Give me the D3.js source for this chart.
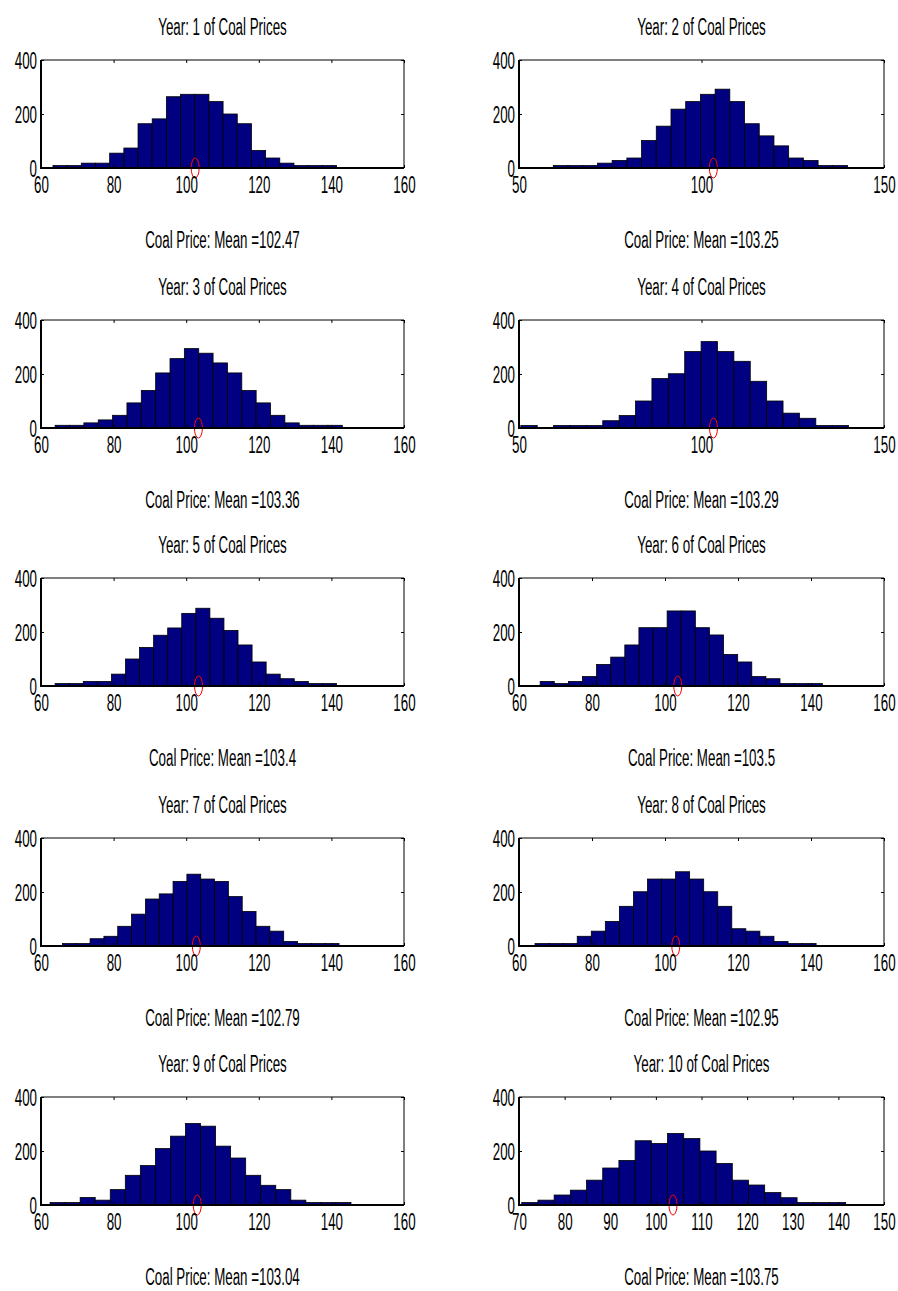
<!DOCTYPE html>
<html>
<head>
<meta charset="utf-8">
<script src="https://cdn.jsdelivr.net/npm/d3@7"></script>
<style>
  body { margin: 0; background: #fff; }
  svg { display: block; }
  text { font-family: "Liberation Sans", Arial, sans-serif; fill: #000; }
  .tick line { stroke: #000; }
</style>
</head>
<body>
<svg width="898" height="1291"></svg>
<script>
// histogram of simulated coal prices, one panel per year
var years = [1, 2, 3, 4, 5, 6, 7, 8, 9, 10];
var means = [102.47, 103.25, 103.36, 103.29, 103.4, 103.5, 102.79, 102.95, 103.04, 103.75];
var xDomains = [[60, 160], [50, 150], [60, 160], [50, 150], [60, 160],
                [60, 160], [60, 160], [60, 160], [60, 160], [70, 150]];
var xTicks = [
    [60, 80, 100, 120, 140, 160], [50, 100, 150],
    [60, 80, 100, 120, 140, 160], [50, 100, 150],
    [60, 80, 100, 120, 140, 160], [60, 80, 100, 120, 140, 160],
    [60, 80, 100, 120, 140, 160], [60, 80, 100, 120, 140, 160],
    [60, 80, 100, 120, 140, 160], [70, 80, 90, 100, 110, 120, 130, 140, 150]
];
var yTicks = [0, 200, 400];
// first and last bin edge of each year (20 bins each)
var binLo = [63.3, 59.4, 63.9, 50.5, 63.9, 65.8, 65.9, 64.4, 62.5, 70.6];
var binHi = [141.4, 140.0, 143.0, 140.3, 141.4, 143.1, 142.1, 141.4, 145.4, 141.6];

var counts1 = [9, 9, 18, 18, 55, 74, 164, 182, 264, 273, 273, 246, 200, 164, 65, 37, 18, 9, 9, 9];
var counts2 = [9, 9, 9, 18, 28, 37, 102, 155, 218, 246, 273, 292, 246, 164, 119, 82, 37, 28, 9, 9];
var counts3 = [10, 10, 19, 30, 47, 93, 139, 204, 257, 294, 277, 241, 204, 139, 93, 47, 19, 10, 10, 10];
var counts4 = [9, 0, 9, 9, 9, 27, 46, 100, 183, 201, 283, 320, 283, 247, 173, 100, 55, 36, 9, 9];
var counts5 = [9, 9, 17, 17, 44, 100, 143, 188, 215, 269, 288, 251, 206, 152, 89, 44, 27, 17, 9, 9];
var counts6 = [17, 9, 17, 35, 80, 107, 152, 216, 216, 278, 278, 216, 189, 117, 89, 35, 27, 9, 9, 9];
var counts7 = [9, 9, 27, 36, 73, 118, 174, 193, 239, 266, 248, 239, 183, 128, 73, 55, 17, 9, 9, 9];
var counts8 = [9, 9, 9, 36, 55, 91, 147, 201, 248, 248, 275, 248, 201, 147, 64, 55, 36, 17, 9, 9];
var counts9 = [9, 9, 28, 18, 57, 110, 146, 209, 255, 302, 292, 218, 174, 110, 73, 57, 18, 9, 9, 9];
var counts10 = [9, 18, 37, 55, 92, 137, 165, 238, 228, 265, 246, 200, 154, 92, 74, 46, 27, 9, 9, 9];
var allCounts = [counts1, counts2, counts3, counts4, counts5, counts6, counts7, counts8, counts9, counts10];

var svg = d3.select("svg");
var colLeft = [41, 519], colWidth = [363, 365];
var rowTop = [60, 320, 578, 838, 1097], plotH = 108;
var sx = 0.58;
var squeeze = "scale(" + sx + ",1)";   // the reference text is narrow and tall
var fs = "23px";

function label(g, x, y, str) {
    g.append("g")
        .attr("transform", "translate(" + x + "," + y + ") " + squeeze)
        .append("text")
        .attr("text-anchor", "middle")
        .style("font-size", fs)
        .text(str);
}

years.forEach(function(yr, i) {
    var col = i % 2, row = Math.floor(i / 2);
    var w = colWidth[col];
    var g = svg.append("g")
        .attr("transform", "translate(" + colLeft[col] + "," + rowTop[row] + ")");

    var x = d3.scaleLinear().domain(xDomains[i]).range([0, w]);
    var y = d3.scaleLinear().domain([0, 400]).range([plotH, 0]);

    var c = allCounts[i];
    var step = (binHi[i] - binLo[i]) / c.length;
    var bins = c.map(function(v, k) {
        return { x0: binLo[i] + k * step, x1: binLo[i] + (k + 1) * step, n: v };
    });

    g.selectAll("rect.bar")
        .data(bins)
        .enter().append("rect")
        .attr("class", "bar")
        .attr("x", function(d) { return x(d.x0); })
        .attr("width", function(d) { return x(d.x1) - x(d.x0); })
        .attr("y", function(d) { return y(d.n); })
        .attr("height", function(d) { return plotH - y(d.n); })
        .attr("fill", "#000080")
        .attr("stroke", "#000")
        .attr("stroke-width", 0.8);

    // mean marker
    g.append("ellipse")
        .attr("cx", x(means[i]))
        .attr("cy", y(0))
        .attr("rx", 4)
        .attr("ry", 10)
        .attr("fill", "none")
        .attr("stroke", "#ff0000")
        .attr("stroke-width", 1);

    // axes, ticks pointing inward
    var xb = g.append("g")
        .attr("transform", "translate(0," + plotH + ")")
        .call(d3.axisBottom(x).tickValues(xTicks[i]).tickSizeInner(-3).tickSizeOuter(0).tickPadding(9));
    xb.select(".domain").remove();
    xb.selectAll("text").attr("transform", squeeze).style("font-size", fs);

    var xt = g.append("g")
        .call(d3.axisTop(x).tickValues(xTicks[i]).tickSizeInner(-3).tickSizeOuter(0).tickFormat(""));
    xt.select(".domain").remove();

    var yl = g.append("g")
        .call(d3.axisLeft(y).tickValues(yTicks).tickSizeInner(-3).tickSizeOuter(0).tickPadding(0));
    yl.select(".domain").remove();
    yl.selectAll("text")
        .attr("x", -4 / sx)
        .attr("dy", "0.36em")
        .attr("transform", squeeze)
        .style("font-size", fs);

    var yr2 = g.append("g")
        .attr("transform", "translate(" + w + ",0)")
        .call(d3.axisRight(y).tickValues(yTicks).tickSizeInner(-3).tickSizeOuter(0).tickFormat(""));
    yr2.select(".domain").remove();

    // box
    g.append("line").attr("x1", 0).attr("x2", w).attr("y1", 0).attr("y2", 0)
        .attr("stroke", "#000").attr("stroke-width", 1);
    g.append("line").attr("x1", w).attr("x2", w).attr("y1", 0).attr("y2", plotH)
        .attr("stroke", "#000").attr("stroke-width", 1);
    g.append("line").attr("x1", 0).attr("x2", 0).attr("y1", 0).attr("y2", plotH + 1)
        .attr("stroke", "#000").attr("stroke-width", 2);
    g.append("line").attr("x1", 0).attr("x2", w).attr("y1", plotH).attr("y2", plotH)
        .attr("stroke", "#000").attr("stroke-width", 2);

    label(g, w / 2, -25, "Year: " + yr + " of Coal Prices");
    label(g, w / 2, plotH + 80, "Coal Price: Mean =" + means[i]);
});
</script>
</body>
</html>
